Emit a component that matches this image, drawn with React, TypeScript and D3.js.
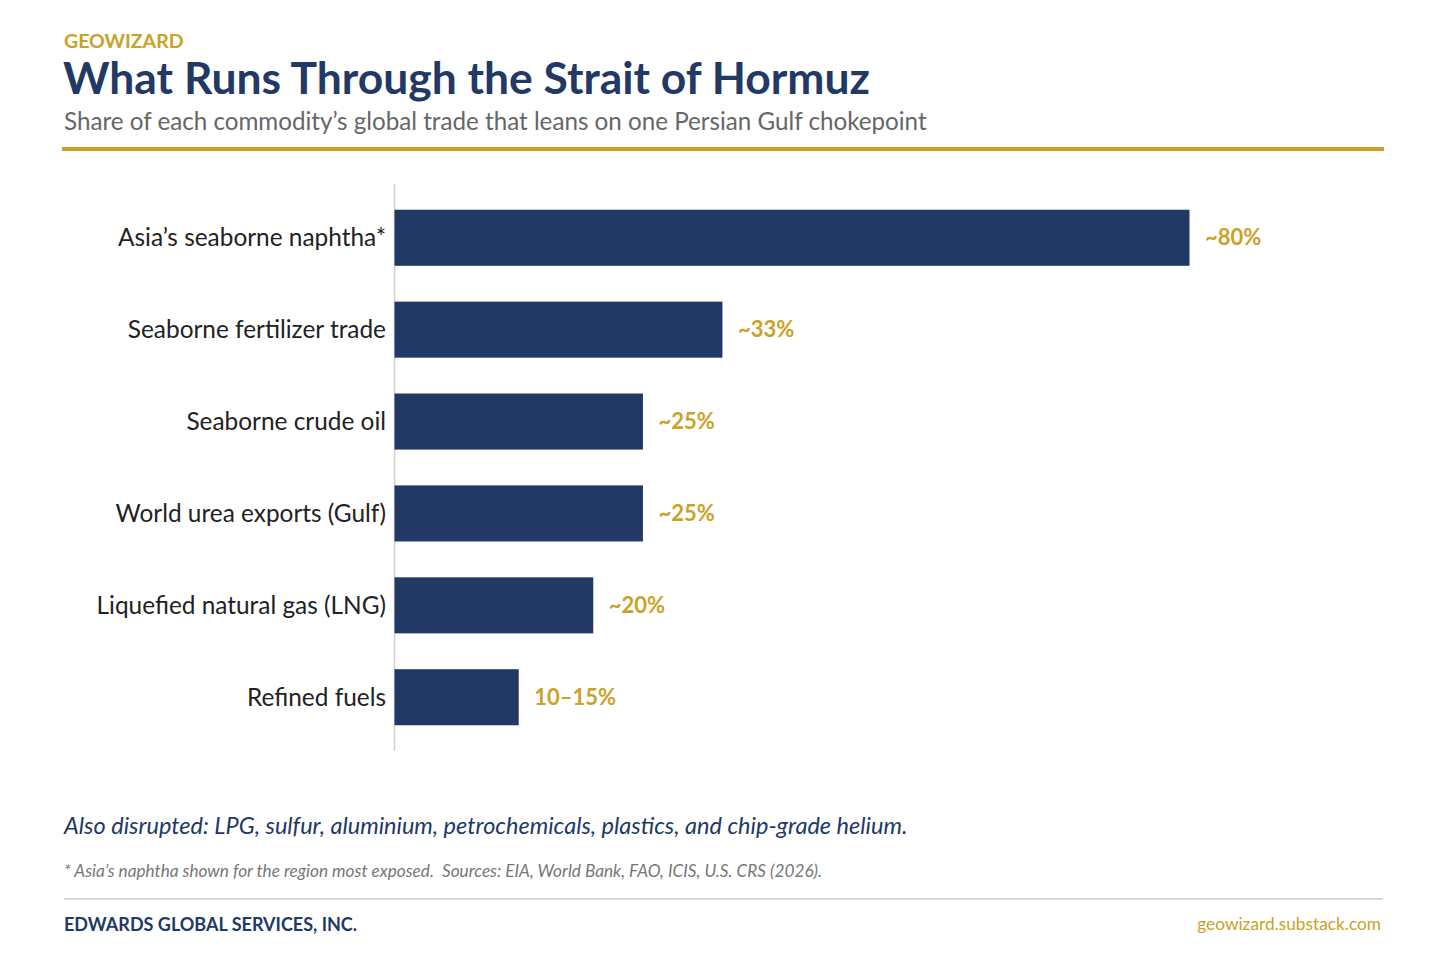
import * as React from 'react';
import * as d3 from 'd3';

const categories = [
  'Asia\u2019s seaborne naphtha*',
  'Seaborne fertilizer trade',
  'Seaborne crude oil',
  'World urea exports (Gulf)',
  'Liquefied natural gas (LNG)',
  'Refined fuels',
];
const shares = [80, 33, 25, 25, 20, 12.5];
const shareLabels = ['~80%', '~33%', '~25%', '~25%', '~20%', '10\u201315%'];

const NAVY = '#213964';
const GOLD = '#C9A227';
const FONT = 'Lato, "Open Sans", sans-serif';

const W = 1432;
const H = 969;

const App: React.FC = () => {
  const x = d3.scaleLinear().domain([0, 80]).range([394, 1189]);
  const y = d3.scaleBand<string>()
    .domain(categories)
    .range([184, 751])
    .paddingInner(0.39)
    .paddingOuter(0.28);
  const bw = y.bandwidth();

  return (
    <svg width={W} height={H} viewBox={`0 0 ${W} ${H}`}
      style={{ display: 'block', position: 'absolute', left: 0, top: 0, background: '#fff' }}
      fontFamily={FONT}>
      <rect width={W} height={H} fill="#fff" />

      {/* header */}
      <text x={64} y={48} fontSize={19.5} fontWeight={700} fill={GOLD}>GEOWIZARD</text>
      <text x={63} y={94} fontSize={44.4} fontWeight={700} fill={NAVY}>What Runs Through the Strait of Hormuz</text>
      <text x={64} y={130} fontSize={24.2} fill="#666">Share of each commodity&#8217;s global trade that leans on one Persian Gulf chokepoint</text>
      <rect x={62} y={147} width={1322} height={4} fill={GOLD} />

      {/* bars */}
      <line x1={394.5} x2={394.5} y1={184} y2={751} stroke="#d0d0d0" strokeWidth={1.5} />
      {categories.map((c, i) => {
        const y0 = y(c) ?? 0;
        return (
          <g key={c}>
            <rect x={x(0) + 0.5} y={y0} width={x(shares[i]) - x(0)} height={bw} fill={NAVY} />
            <text x={386} y={y0 + bw / 2} dy="0.35em" textAnchor="end" fontSize={24.4} fill="#222">{c}</text>
            <text x={x(shares[i]) + 16} y={y0 + bw / 2} dy="0.35em" fontSize={22} fontWeight={700} fill={GOLD}>{shareLabels[i]}</text>
          </g>
        );
      })}

      {/* notes */}
      <text x={64} y={834} fontSize={23.5} fontStyle="italic" fill={NAVY}>Also disrupted: LPG, sulfur, aluminium, petrochemicals, plastics, and chip-grade helium.</text>
      <text x={64} y={877} fontSize={17.2} fontStyle="italic" fill="#777" style={{ whiteSpace: 'pre' }}>* Asia&#8217;s naphtha shown for the region most exposed.  Sources: EIA, World Bank, FAO, ICIS, U.S. CRS (2026).</text>
      <line x1={64} x2={1383} y1={899} y2={899} stroke="#d8d8d8" strokeWidth={2} />
      <text x={64} y={931} fontSize={18} fontWeight={700} fill={NAVY}>EDWARDS GLOBAL SERVICES, INC.</text>
      <text x={1381} y={930} fontSize={17.3} textAnchor="end" fill={GOLD}>geowizard.substack.com</text>
    </svg>
  );
};

export default App;
